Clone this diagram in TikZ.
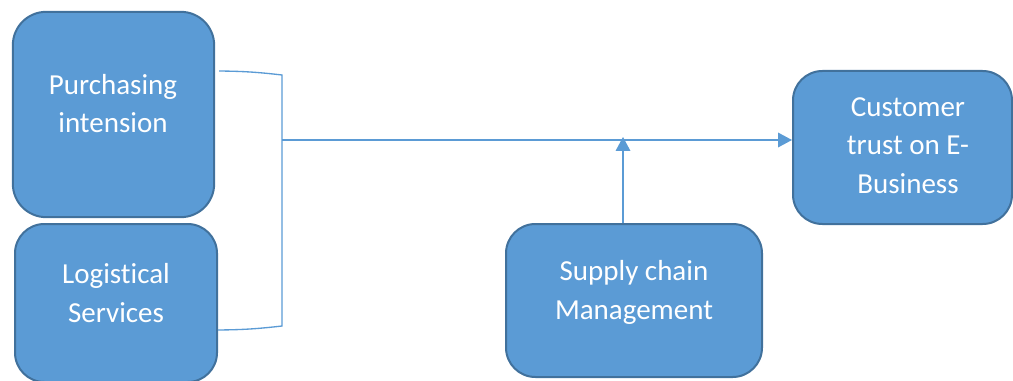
\documentclass[tikz,border=0pt]{standalone}
\usepackage{fontspec}
\setmainfont{Carlito}[Ligatures=NoCommon]
\usepackage{xcolor}
\usetikzlibrary{arrows.meta}

\definecolor{boxfill}{HTML}{5B9BD5}
\definecolor{boxline}{HTML}{41719C}

\begin{document}
\begin{tikzpicture}[
  x=0.75pt, y=-0.75pt,
  font=\fontsize{21.75}{29}\selectfont, >={Triangle[length=10.5pt, width=11pt]},
  card/.style={draw=boxline, line width=1.5pt, fill=boxfill, rounded corners=22pt},
  lbl/.style={align=center, text=white, inner sep=0pt},
  link/.style={draw=boxfill, line width=1pt},
  arr/.style={link, ->}]
  \useasboundingbox (0,0) rectangle (1013,381);
  % boxes
  \node[card, minimum width=151pt, minimum height=154pt, rounded corners=25pt] (purch) at (113.5,114.5) {};
  \node[card, minimum width=151.5pt, minimum height=118.5pt] (logis) at (116,303) {};
  \node[card, minimum width=192pt, minimum height=114.75pt] (supply) at (634,300.5) {};
  \node[card, minimum width=164.25pt, minimum height=114.75pt] (cust) at (902.5,147.5) {};
  % texts
  \node[lbl] (purchtxt)  at (113,103.5) {Purchasing\\intension};
  \node[lbl] (logistxt)  at (116,293)   {Logistical\\Services};
  \node[lbl] (supplytxt) at (634,292.5) {Supply chain\\Management};
  \node[lbl] (custtxt)   at (908,145.5) {Customer\\trust on E-\\Business};
  % bracket and arrows
  \coordinate (brtop) at (282,75);
  \coordinate (brbot) at (282,326);
  \coordinate (brmid) at (282,140);
  \coordinate (meet)  at (623,137);
  \draw[link] ([xshift=3pt,yshift=3pt]purch.east |- brtop) to[bend left=3] (brtop) -- (brbot)
    to[bend left=3] ([yshift=-3pt]logis.east |- brbot);
  \draw[arr] (brmid) -- (cust.west |- brmid);
  \draw[arr] (supply.north -| meet) -- (meet);
\end{tikzpicture}
\end{document}
